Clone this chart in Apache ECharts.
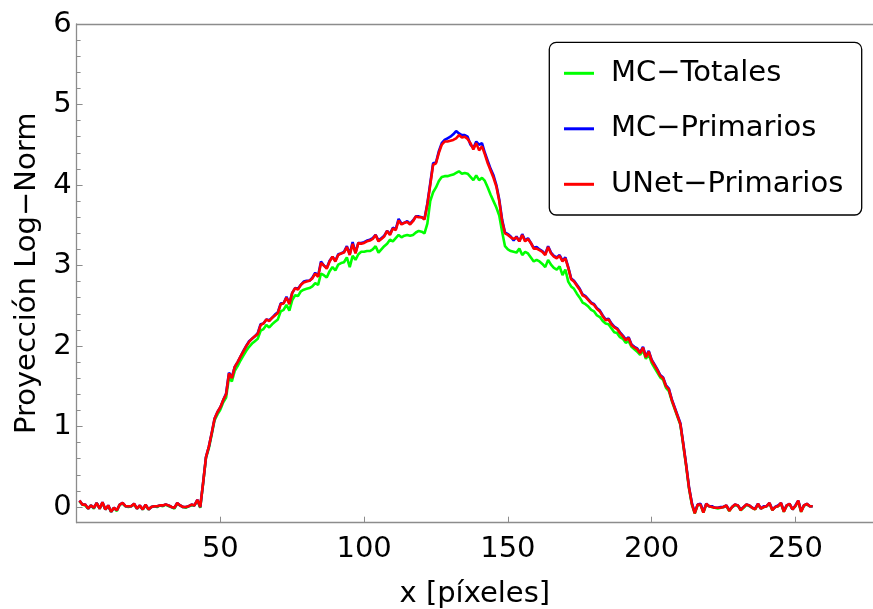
<!DOCTYPE html>
<html>
<head>
<meta charset="utf-8">
<script src="https://cdn.jsdelivr.net/npm/echarts@6/dist/echarts.min.js"></script>
<style>html,body{margin:0;padding:0;background:#fff}#c{width:873px;height:609px}</style>
</head>
<body>
<div id="c"></div>
<script>
// pixel index 1..256
const seriesNames = ['MC−Totales', 'MC−Primarios', 'UNet−Primarios'];
const xTicks = [50, 100, 150, 200, 250];
const yTicks = [0, 1, 2, 3, 4, 5, 6];
const yMinorTicks = [0.2,0.4,0.6,0.8,1.2,1.4,1.6,1.8,2.2,2.4,2.6,2.8,3.2,3.4,3.6,3.8,4.2,4.4,4.6,4.8,5.2,5.4,5.6,5.8];

const mcTotales = [
 0.07,0.03,0.02,-0.02,0.02,-0.02,0.05,-0.02,0.05,-0.03,
 0.01,-0.06,-0.01,-0.05,0.03,0.04,0.01,0.00,0.01,0.03,
 -0.02,0.01,-0.03,0.02,-0.03,0.00,0.01,0.00,0.02,0.01,
 0.03,0.01,0.00,-0.02,0.04,0.02,0.00,-0.01,0.01,0.02,
 0.02,0.08,-0.01,0.29,0.61,0.73,0.90,1.08,1.15,1.21,
 1.30,1.36,1.61,1.56,1.69,1.75,1.82,1.88,1.94,1.99,
 2.03,2.06,2.09,2.19,2.21,2.26,2.23,2.27,2.30,2.33,
 2.43,2.45,2.51,2.44,2.57,2.63,2.62,2.68,2.70,2.71,
 2.72,2.74,2.78,2.76,2.90,2.88,2.85,2.93,2.98,2.94,
 3.01,3.03,3.04,3.10,2.98,3.12,3.07,3.14,3.17,3.17,
 3.18,3.18,3.20,3.24,3.16,3.20,3.24,3.27,3.32,3.30,
 3.34,3.38,3.35,3.37,3.38,3.37,3.38,3.41,3.43,3.42,
 3.40,3.52,3.80,3.91,3.97,4.05,4.10,4.11,4.11,4.12,
 4.13,4.15,4.17,4.14,4.15,4.14,4.10,4.06,4.12,4.06,
 4.09,4.05,3.97,3.88,3.80,3.72,3.62,3.42,3.24,3.20,
 3.18,3.17,3.16,3.21,3.13,3.17,3.15,3.10,3.05,3.07,
 3.05,3.02,2.98,3.07,3.01,2.97,2.95,2.99,2.88,2.95,
 2.80,2.74,2.71,2.65,2.60,2.54,2.52,2.49,2.45,2.43,
 2.38,2.36,2.31,2.28,2.27,2.22,2.17,2.16,2.11,2.09,
 2.04,2.06,1.99,1.96,1.93,1.89,1.95,1.84,1.90,1.79,
 1.73,1.67,1.61,1.58,1.48,1.44,1.32,1.22,1.12,1.02,
 0.77,0.51,0.23,0.03,-0.08,0.02,0.03,-0.07,0.03,0.01,
 0.00,-0.01,-0.02,-0.01,0.00,0.01,-0.05,0.00,0.02,0.02,
 -0.04,-0.01,0.03,0.01,-0.01,-0.03,0.03,-0.02,0.00,0.01,
 0.04,-0.04,0.00,0.01,0.04,-0.06,0.02,0.03,-0.03,0.01,
 0.07,-0.06,0.02,0.03,0.01,0.01
];

const mcPrimarios = [
 0.08,0.03,0.03,-0.02,0.02,-0.01,0.05,-0.02,0.06,-0.03,
 0.02,-0.06,-0.01,-0.04,0.03,0.05,0.01,0.01,0.01,0.04,
 -0.02,0.02,-0.03,0.03,-0.03,0.00,0.01,0.01,0.02,0.02,
 0.03,0.02,0.00,-0.01,0.05,0.02,0.00,0.00,0.01,0.03,
 0.02,0.09,0.00,0.30,0.62,0.75,0.92,1.10,1.18,1.24,
 1.33,1.41,1.67,1.61,1.74,1.80,1.87,1.94,2.00,2.06,
 2.09,2.12,2.16,2.27,2.28,2.33,2.32,2.35,2.39,2.42,
 2.53,2.53,2.61,2.53,2.66,2.72,2.71,2.76,2.80,2.81,
 2.81,2.85,2.91,2.87,3.05,3.00,2.97,3.06,3.11,3.06,
 3.14,3.15,3.17,3.24,3.14,3.29,3.16,3.28,3.28,3.29,
 3.31,3.32,3.34,3.38,3.31,3.34,3.37,3.43,3.39,3.47,
 3.45,3.58,3.52,3.53,3.55,3.52,3.56,3.61,3.61,3.60,
 3.58,3.77,4.02,4.27,4.28,4.42,4.52,4.56,4.58,4.60,
 4.63,4.67,4.64,4.62,4.62,4.60,4.50,4.46,4.54,4.50,
 4.52,4.40,4.30,4.20,4.12,4.00,3.82,3.57,3.41,3.39,
 3.36,3.31,3.36,3.30,3.39,3.31,3.34,3.28,3.22,3.23,
 3.20,3.18,3.14,3.24,3.16,3.12,3.10,3.13,3.06,3.10,
 2.98,2.84,2.81,2.76,2.71,2.64,2.62,2.58,2.54,2.52,
 2.47,2.44,2.38,2.33,2.34,2.28,2.24,2.22,2.17,2.13,
 2.08,2.11,2.02,1.99,1.97,1.92,1.99,1.87,1.94,1.83,
 1.77,1.71,1.64,1.61,1.51,1.47,1.34,1.24,1.14,1.04,
 0.79,0.53,0.25,0.05,-0.07,0.03,0.04,-0.06,0.04,0.01,
 0.01,-0.01,-0.01,0.00,0.00,0.02,-0.04,0.00,0.03,0.02,
 -0.03,0.00,0.03,0.02,-0.01,-0.02,0.04,-0.02,0.01,0.01,
 0.05,-0.03,0.00,0.02,0.05,-0.05,0.02,0.04,-0.03,0.02,
 0.08,-0.05,0.02,0.04,0.01,0.01
];

const unetPrimarios = [
 0.08,0.03,0.03,-0.02,0.02,-0.01,0.05,-0.02,0.06,-0.03,
 0.02,-0.06,-0.01,-0.04,0.03,0.05,0.01,0.01,0.01,0.04,
 -0.02,0.02,-0.03,0.03,-0.03,0.00,0.01,0.01,0.02,0.02,
 0.03,0.02,0.00,-0.01,0.05,0.02,0.00,0.00,0.01,0.03,
 0.02,0.09,0.00,0.30,0.62,0.75,0.92,1.10,1.18,1.24,
 1.33,1.40,1.66,1.60,1.74,1.80,1.87,1.93,2.00,2.05,
 2.09,2.12,2.15,2.26,2.28,2.33,2.31,2.35,2.38,2.41,
 2.52,2.53,2.60,2.52,2.66,2.72,2.70,2.76,2.79,2.80,
 2.81,2.84,2.90,2.86,3.03,3.00,2.96,3.05,3.11,3.05,
 3.13,3.15,3.16,3.23,3.13,3.27,3.15,3.28,3.27,3.28,
 3.30,3.31,3.33,3.38,3.30,3.33,3.36,3.43,3.38,3.46,
 3.44,3.56,3.51,3.53,3.54,3.51,3.55,3.61,3.60,3.60,
 3.57,3.76,4.00,4.25,4.27,4.40,4.50,4.54,4.54,4.55,
 4.56,4.58,4.62,4.59,4.60,4.57,4.52,4.44,4.52,4.43,
 4.48,4.38,4.27,4.18,4.09,3.98,3.80,3.55,3.40,3.38,
 3.35,3.33,3.35,3.30,3.38,3.30,3.33,3.28,3.21,3.21,
 3.19,3.17,3.13,3.23,3.15,3.11,3.09,3.12,3.05,3.09,
 2.97,2.83,2.80,2.75,2.70,2.63,2.61,2.57,2.53,2.51,
 2.46,2.43,2.37,2.32,2.33,2.27,2.23,2.21,2.16,2.12,
 2.07,2.10,2.01,1.98,1.96,1.91,1.98,1.86,1.93,1.82,
 1.76,1.70,1.63,1.60,1.50,1.46,1.33,1.23,1.13,1.03,
 0.78,0.52,0.24,0.04,-0.08,0.03,0.03,-0.07,0.04,0.01,
 0.00,-0.01,-0.01,-0.01,0.00,0.02,-0.05,0.00,0.03,0.02,
 -0.04,0.00,0.03,0.02,-0.01,-0.03,0.04,-0.02,0.00,0.01,
 0.05,-0.04,0.00,0.01,0.05,-0.06,0.02,0.04,-0.03,0.01,
 0.08,-0.06,0.02,0.04,0.01,0.01
];

const colors = ['#00ff00', '#0000ff', '#ff0000'];
const FONT = 'DejaVu Sans';
const AXC = '#8c8c8c';
const FS = 29;

function pairs(arr) { return arr.map((v, i) => [i + 1, v]); }

const chart = echarts.init(document.getElementById('c'), null, {renderer: 'canvas'});
chart.setOption({
  animation: false,
  backgroundColor: '#ffffff',
  grid: {left: 76.6, right: 0, top: 24, bottom: 86.3, containLabel: false, outerBoundsMode: 'none'},
  xAxis: [{
    type: 'value', min: 0, max: 277, position: 'bottom',
    name: 'x [píxeles]', nameLocation: 'middle', nameGap: 57,
    nameTextStyle: {fontFamily: FONT, fontSize: FS, color: '#000'},
    axisLine: {show: true, onZero: false, lineStyle: {color: AXC, width: 1.3}},
    axisTick: {show: true, inside: true, length: 6, customValues: xTicks, lineStyle: {color: AXC, width: 1}},
    axisLabel: {show: true, customValues: xTicks, margin: 12, fontFamily: FONT, fontSize: FS, color: '#000'},
    splitLine: {show: false}
  }, {
    type: 'value', min: 0, max: 277, position: 'top',
    axisLine: {show: true, onZero: false, lineStyle: {color: AXC, width: 1.3}},
    axisTick: {show: false}, axisLabel: {show: false}, splitLine: {show: false}
  }],
  yAxis: [{
    type: 'value', min: -0.195, max: 6, position: 'left',
    name: 'Proyección Log−Norm', nameLocation: 'middle', nameGap: 34, nameRotate: 90,
    nameTextStyle: {fontFamily: FONT, fontSize: FS, color: '#000'},
    axisLine: {show: true, onZero: false, lineStyle: {color: AXC, width: 1.3}},
    axisTick: {show: true, inside: true, length: 6, customValues: yTicks, lineStyle: {color: AXC, width: 1}},
    axisLabel: {show: true, customValues: yTicks, margin: 5, fontFamily: FONT, fontSize: FS, color: '#000'},
    splitLine: {show: false}
  }, {
    type: 'value', min: -0.195, max: 6, position: 'left',
    axisLine: {show: false},
    axisTick: {show: true, inside: true, length: 4, customValues: yMinorTicks, lineStyle: {color: AXC, width: 1}},
    axisLabel: {show: false}, splitLine: {show: false}
  }],
  legend: {
    orient: 'vertical', left: 564, top: 58.8, padding: 0,
    itemWidth: 30, itemHeight: 3, itemGap: 26.5, icon: 'rect',
    textStyle: {fontFamily: FONT, fontSize: FS, lineHeight: 29, color: '#000', padding: [0, 0, 0, 12]},
    data: seriesNames
  },
  graphic: [{
    type: 'rect', z: 3,
    shape: {x: 549.3, y: 42.3, width: 312.4, height: 172.7, r: 7},
    style: {fill: '#fff', stroke: '#000', lineWidth: 1.3}
  }],
  series: [
    {name: seriesNames[0], type: 'line', data: pairs(mcTotales), showSymbol: false, color: colors[0], lineStyle: {width: 2.6, color: colors[0]}, z: 2},
    {name: seriesNames[1], type: 'line', data: pairs(mcPrimarios), showSymbol: false, color: colors[1], lineStyle: {width: 2.6, color: colors[1]}, z: 3},
    {name: seriesNames[2], type: 'line', data: pairs(unetPrimarios), showSymbol: false, color: colors[2], lineStyle: {width: 2.6, color: colors[2]}, z: 4}
  ]
});
</script>
</body>
</html>
